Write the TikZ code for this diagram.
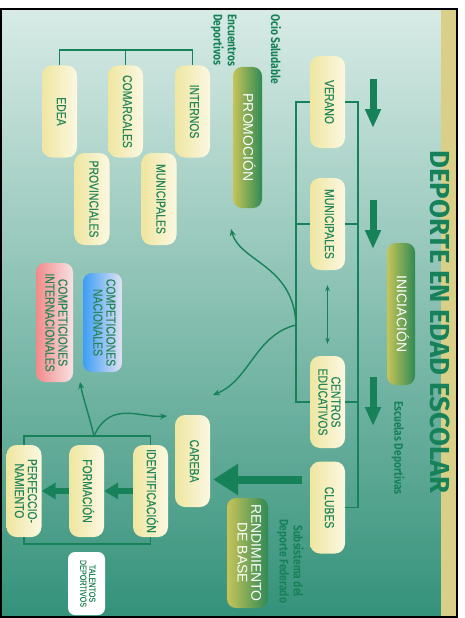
\documentclass[tikz,border=0pt]{standalone}
\usepackage{fontspec}
\usepackage{graphicx}
\setmainfont{Liberation Sans}
\newfontfamily\boxfont[FakeStretch=0.8,FakeBold=0.3]{Liberation Sans}
\newfontfamily\labelfont[FakeStretch=0.82]{Fira Sans}
\newfontfamily\titlefont{Fira Sans}
\usetikzlibrary{arrows.meta}

\definecolor{bgtop}{HTML}{D8EBE6}
\definecolor{bgmid}{HTML}{8AC6B5}
\definecolor{bgbot}{HTML}{34927A}
\definecolor{strip}{HTML}{D9CF86}
\definecolor{lgreen}{HTML}{178259}
\definecolor{txtgreen}{HTML}{24865A}
\definecolor{yboxL}{HTML}{EFE6A0}
\definecolor{yboxR}{HTML}{FBF8E2}
\definecolor{gboxL}{HTML}{C6C458}
\definecolor{gboxR}{HTML}{2F8A55}
\definecolor{bluL}{HTML}{3C9EF5}
\definecolor{bluR}{HTML}{E2E2F2}
\definecolor{redL}{HTML}{F28A8A}
\definecolor{redR}{HTML}{F8E2E2}

% texto girado
\newcommand{\vt}[1]{\rotatebox{-90}{\begin{tabular}{@{}c@{}}#1\end{tabular}}}

\begin{document}
\begin{tikzpicture}[x=1pt,y=-1pt,
    ybox/.style={rounded corners=10pt,left color=yboxL,right color=yboxR,
      minimum width=35pt,minimum height=92pt,inner sep=0pt,text=txtgreen,
      font=\boxfont\fontsize{13}{13}\selectfont},
    gbox/.style={rounded corners=9pt,left color=gboxL,right color=gboxR,
      inner sep=0pt,text=white,font=\fontsize{14}{13}\selectfont},
    compbox/.style={rounded corners=9pt,inner sep=0pt,text=txtgreen,
      font=\boxfont\fontsize{13}{13}\selectfont},
    lbl/.style={inner sep=0pt,text=lgreen,
      font=\labelfont\bfseries\fontsize{12.5}{14}\selectfont},
    rail/.style={draw=lgreen,line width=1.6pt},
    fatarrow/.style={draw=lgreen,line width=7pt,-{Triangle[width=15pt,length=19pt]}},
    midarrow/.style={draw=lgreen,line width=6pt,-{Triangle[width=16pt,length=14pt]}},
    bigarrow/.style={draw=lgreen,line width=8pt,-{Triangle[width=30pt,length=25pt]}},
    curvearrow/.style={draw=lgreen,line width=1.4pt,-{Stealth[length=7pt,width=6pt]}},
    dblarrow/.style={draw=lgreen,line width=1pt,{Stealth[length=6pt]}-{Stealth[length=6pt]}}]
  \useasboundingbox (0,0) rectangle (464,618);
  \fill[white] (0,0) rectangle (464,618);
  \shade[top color=bgtop,middle color=bgmid,bottom color=bgbot] (1,9) rectangle (457,617);
  \fill[strip] (441,10) rectangle (456,616);
  \draw[line width=2pt] (1,9) rectangle (457,617);

  \node[text=lgreen,inner sep=0pt,font=\titlefont\bfseries\fontsize{27.5}{27.5}\selectfont]
    (titulo) at (440,322) {\rotatebox{-90}{DEPORTE EN EDAD ESCOLAR}};

  % columna derecha
  \node[ybox] (verano) at (327.5,102) {\vt{VERANO}};
  \node[ybox] (municipalesR) at (327.5,224) {\vt{MUNICIPALES}};
  \node[ybox] (centros) at (327.5,402) {\vt{CENTROS\\EDUCATIVOS}};
  \node[ybox] (clubes) at (327.5,507.5) {\vt{CLUBES}};

  \node[gbox,minimum width=28pt,minimum height=142pt] (iniciacion) at (401,314) {\vt{INICIACIÓN}};
  \node[gbox,minimum width=29pt,minimum height=141pt] (promocion) at (247.5,137.5) {\vt{PROMOCIÓN}};
  \node[gbox,minimum width=41pt,minimum height=110pt] (rendimiento) at (247.5,553) {\vt{RENDIMIENTO\\DE BASE}};

  % promocion
  \node[ybox] (internos) at (192.5,111.5) {\vt{INTERNOS}};
  \node[ybox] (comarcales) at (125.5,111.5) {\vt{COMARCALES}};
  \node[ybox] (edea) at (59.5,111.5) {\vt{EDEA}};
  \node[ybox] (municipalesL) at (159,199) {\vt{MUNICIPALES}};
  \node[ybox] (provinciales) at (92,199) {\vt{PROVINCIALES}};

  % rendimiento
  \node[ybox] (careba) at (192.5,461) {\vt{CAREBA}};
  \node[ybox] (ident) at (150.5,491) {\vt{IDENTIFICACIÓN}};
  \node[ybox] (form) at (86.5,491) {\vt{FORMACIÓN}};
  \node[ybox] (perf) at (24,491) {\vt{PERFECCIO-\\NAMIENTO}};

  \node[compbox,left color=bluL,right color=bluR,minimum width=39pt,minimum height=99pt]
    (compnac) at (102.5,322.5) {\vt{COMPETICIONES\\NACIONALES}};
  \node[compbox,left color=redL,right color=redR,minimum width=37pt,minimum height=119pt]
    (compint) at (54.5,322.5) {\vt{COMPETICIONES\\INTERNACIONALES}};
  \node[compbox,fill=white,rounded corners=7pt,minimum width=37pt,minimum height=63pt,
    font=\boxfont\fontsize{9}{9}\selectfont] (talentos) at (86.5,583.5) {\vt{TALENTOS\\DEPORTIVOS}};

  % etiquetas
  \node[lbl,anchor=north] (ocio) at (276,14) {\rotatebox{-90}{Ocio Saludable}};
  \node[lbl,anchor=north] (encuentros) at (223.5,14)
    {\rotatebox{-90}{\begin{tabular}{@{}l@{}}Encuentros\\Deportivos\end{tabular}}};
  \node[lbl] (escuelas) at (398,448) {\rotatebox{-90}{Escuelas Deportivas}};
  \node[lbl] (subsistema) at (289.5,561) {\vt{Subsistema del\\Deporte Federado}};

  % llaves
  \coordinate (lt) at (296,102);
  \coordinate (lb) at (296,402);
  \coordinate (rt) at (358,102);
  \coordinate (rb) at (358,507.5);
  \draw[rail] (verano.west) -- (lt) -- (lb) -- (centros.west);
  \draw[rail] (municipalesR.west) -- (municipalesR.west -| lt);
  \draw[rail] (verano.east) -- (rt) -- (rb) -- (clubes.east);
  \draw[rail] (municipalesR.east) -- (municipalesR.east -| rt);
  \draw[rail] (centros.east) -- (centros.east -| rt);

  \coordinate (topbar) at (0,50);
  \draw[rail] (edea.north) -- (edea.north |- topbar) -- (internos.north |- topbar) -- (internos.north);
  \draw[rail] (comarcales.north) -- (comarcales.north |- topbar);

  \coordinate (barT) at (0,436);
  \coordinate (barB) at (0,544);
  \draw[rail] (perf.north) -- (perf.north |- barT) -- (ident.north |- barT) -- (ident.north);
  \draw[rail] (perf.south) -- (perf.south |- barB) -- (ident.south |- barB) -- (ident.south);

  % flechas
  \coordinate (a1) at (373,79);   \coordinate (b1) at (373,128);
  \coordinate (a2) at (373,200);  \coordinate (b2) at (373,249);
  \coordinate (a3) at (373,377);  \coordinate (b3) at (373,426);
  \draw[fatarrow] (a1) -- (b1);
  \draw[fatarrow] (a2) -- (b2);
  \draw[fatarrow] (a3) -- (b3);

  \draw[dblarrow,shorten <=15pt,shorten >=12pt] (municipalesR.south) -- (centros.north);
  \draw[bigarrow,shorten <=8pt,shorten >=3pt] ([yshift=28pt]clubes.west) -- ([yshift=28pt]clubes.west -| careba.east);
  \draw[midarrow] (ident.west) -- (form.east);
  \draw[midarrow] (form.west) -- (perf.east);

  \coordinate (hub) at (296,325);
  \coordinate (toprom) at (231,229);
  \coordinate (tocar) at (213,395);
  \draw[curvearrow] (hub) .. controls (294,265) and (240,262) .. (toprom);
  \draw[curvearrow] (hub) .. controls (255,335) and (250,380) .. (tocar);

  \coordinate (fork) at (94,436);
  \coordinate (tocomp) at (80,382);
  \coordinate (tocareba) at (167,416);
  \draw[curvearrow] (fork) .. controls (89,415) and (83,398) .. (tocomp);
  \draw[curvearrow] (fork) .. controls (110,400) and (140,418) .. (tocareba);
\end{tikzpicture}
\end{document}
